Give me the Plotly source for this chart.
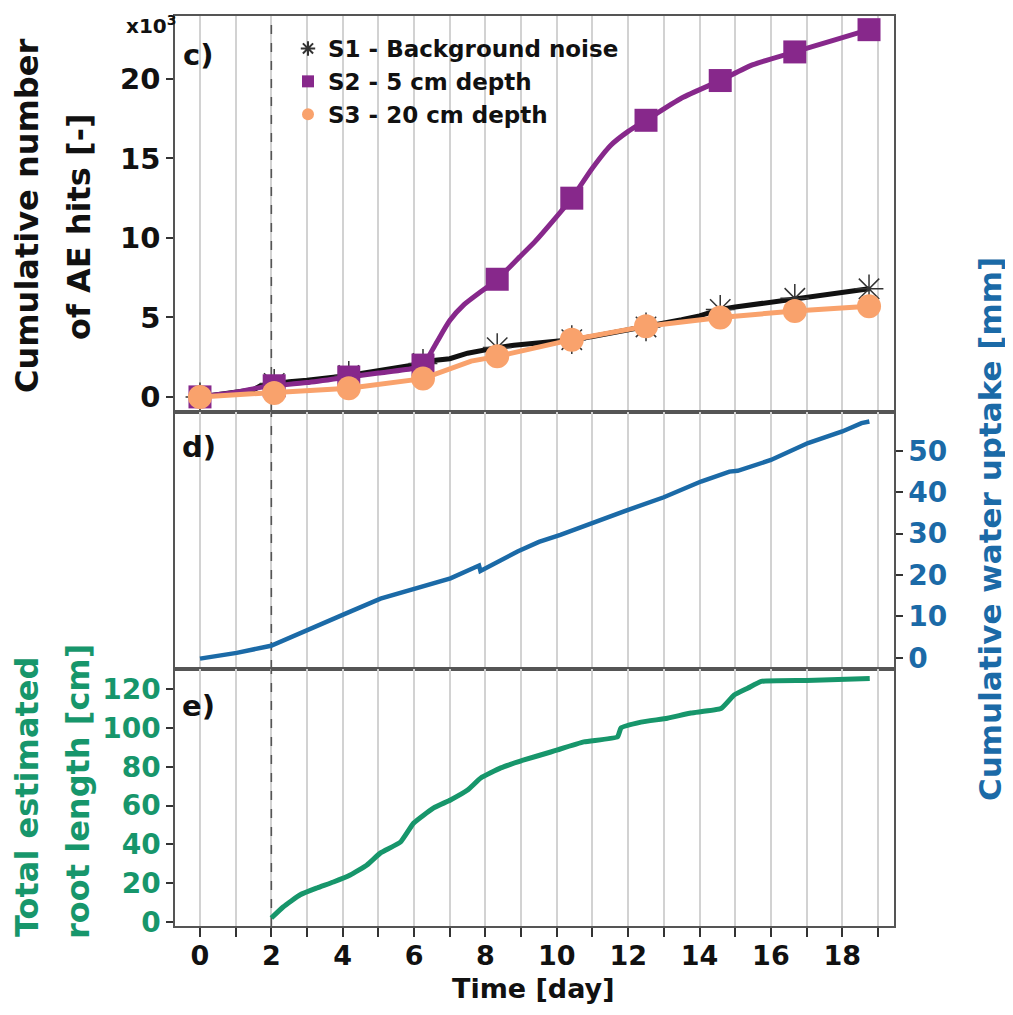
import plotly.graph_objects as go
from plotly.subplots import make_subplots

# ---------------- data ----------------
# Panel c: cumulative AE hits (thousands)
S1_T = [0, 0.5, 1.0, 1.5, 1.7, 2.08, 2.5, 3.0, 3.5, 4.17, 4.6, 5.0, 5.5, 6.0, 6.25, 6.6, 7.0, 7.5, 8.0, 8.33,
        8.8, 9.3, 9.8, 10.42, 11.0, 11.5, 12.0, 12.5, 13.0, 13.5, 14.0, 14.58, 15.0, 15.5, 16.0, 16.67,
        17.2, 17.7, 18.2, 18.75]
S1_K = [0, 0.15, 0.35, 0.45, 0.7, 0.85, 0.95, 1.05, 1.15, 1.35, 1.5, 1.65, 1.8, 1.95, 2.1, 2.3, 2.4, 2.75, 3.0, 3.1,
        3.25, 3.35, 3.5, 3.6, 3.8, 4.0, 4.2, 4.4, 4.6, 4.85, 5.1, 5.5, 5.65, 5.8, 5.95, 6.2,
        6.35, 6.5, 6.65, 6.8]
S2_T = [0, 1.0, 1.7, 2.08, 3.0, 4.17, 5.0, 6.0, 6.25, 6.6, 7.0, 7.4, 8.33, 9.0, 9.4, 10.42, 11.0, 11.5, 12.0,
        12.5, 13.5, 14.58, 15.5, 16.67, 17.7, 18.75]
S2_K = [0, 0.3, 0.6, 0.7, 0.9, 1.25, 1.5, 1.8, 2.0, 3.3, 4.8, 5.8, 7.4, 8.9, 9.8, 12.5, 14.4, 15.8, 16.7,
        17.4, 18.8, 19.9, 20.9, 21.7, 22.4, 23.1]
S3_T = [0, 2.08, 4.17, 6.25, 7.0, 7.6, 8.33, 10.42, 12.5, 14.58, 16.67, 18.75]
S3_K = [0, 0.25, 0.55, 1.15, 1.8, 2.25, 2.55, 3.6, 4.45, 5.0, 5.4, 5.7]

MARK_T = [0, 2.08, 4.17, 6.25, 8.33, 10.42, 12.5, 14.58, 16.67, 18.75]
S1_MARK_K = [0, 0.85, 1.35, 2.1, 3.1, 3.6, 4.4, 5.5, 6.2, 6.8]
S2_MARK_K = [0, 0.7, 1.25, 2.0, 7.4, 12.5, 17.4, 19.9, 21.7, 23.1]
S3_MARK_K = [0, 0.25, 0.55, 1.15, 2.55, 3.6, 4.45, 5.0, 5.4, 5.7]

# Panel d: cumulative water uptake [mm]
WATER_T = [0, 1.03, 1.99, 3.0, 4.03, 5.06, 5.99, 7.02, 7.82, 7.86, 8.9, 9.5, 10.1, 10.96, 11.98, 13.0,
           14.04, 14.84, 15.07, 16.0, 17.04, 18.0, 18.54, 18.76]
WATER_MM = [-0.2, 1.2, 2.9, 6.8, 10.5, 14.3, 16.6, 19.2, 22.3, 21.0, 25.7, 28.0, 29.7, 32.5, 35.7, 38.8,
            42.6, 45.0, 45.2, 47.8, 51.9, 54.7, 56.7, 57.1]

# Panel e: total estimated root length [cm]
ROOT_T = [2.0, 2.33, 2.81, 3.28, 3.74, 4.21, 4.68, 5.06, 5.62, 5.99, 6.55, 7.02, 7.5, 7.87, 8.43, 9.08,
          9.83, 10.02, 10.76, 11.7, 11.8, 12.36, 13.1, 13.76, 14.6, 14.97, 15.36, 15.73, 17.0, 18.77]
ROOT_CM = [2, 7.7, 14, 17.5, 20.6, 24.2, 29.4, 35.6, 41.2, 51, 58.8, 62.9, 68, 74.2, 79.4, 83.5,
           87.6, 88.7, 92.8, 95.4, 100, 103, 105, 107.7, 110, 117, 120.6, 124, 124.5, 125.5]

EVENT_DAY = 2
X_TICKS = list(range(0, 20))
X_TICK_TEXT = [str(v) if v % 2 == 0 else "" for v in X_TICKS]
NAMES = ["S1 - Background noise", "S2 - 5 cm depth", "S3 - 20 cm depth"]

# ---------------- styling ----------------
OFF = 8                      # page body offset of the rendered figure
W, H = 1013 - OFF, 1015 - OFF
PL, PR, PT, PB = 175, 894, 16, 926   # plot-area edges in window pixels
L = PL - OFF
T = PT - OFF
R = W - (PR - OFF)
B = H - (PB - OFF)
FONT = "DejaVu Sans"
PURPLE = "#87288b"
ORANGE = "#f9a26c"
BLACK = "#111111"
BLUE = "#1b6aa7"
GREEN = "#17966b"
AXC = "#555555"
GRID = "#d2d2d2"

XR = [-0.7, 19.45]
YR_C = [-0.95, 23.96]
YR_D = [-2.7, 59.4]
YR_E = [-2.1, 130.4]

fig = make_subplots(rows=3, cols=1, shared_xaxes=True, vertical_spacing=0,
                    row_heights=[396, 257, 257])

# event line (under everything)
for row, yr in [(1, YR_C), (2, YR_D), (3, YR_E)]:
    fig.add_trace(go.Scatter(x=[EVENT_DAY, EVENT_DAY], y=yr, mode="lines",
                             line=dict(color="#555555", width=1.6, dash="dash"),
                             showlegend=False, hoverinfo="skip"), row=row, col=1)

# S1
fig.add_trace(go.Scatter(x=S1_T, y=S1_K, mode="lines", line=dict(color=BLACK, width=5),
                         showlegend=False), row=1, col=1)
fig.add_trace(go.Scatter(x=MARK_T, y=S1_MARK_K, mode="markers", name=NAMES[0],
                         marker=dict(symbol="asterisk-open", size=24, color="#333333",
                                     line=dict(color="#333333", width=1.5))), row=1, col=1)
# S2
fig.add_trace(go.Scatter(x=S2_T, y=S2_K, mode="lines", line=dict(color=PURPLE, width=5, shape="spline", smoothing=0.6),
                         showlegend=False), row=1, col=1)
fig.add_trace(go.Scatter(x=MARK_T, y=S2_MARK_K, mode="markers", name=NAMES[1],
                         marker=dict(symbol="square", size=23, color=PURPLE)), row=1, col=1)
# S3
fig.add_trace(go.Scatter(x=S3_T, y=S3_K, mode="lines", line=dict(color=ORANGE, width=5),
                         showlegend=False), row=1, col=1)
fig.add_trace(go.Scatter(x=MARK_T, y=S3_MARK_K, mode="markers", name=NAMES[2],
                         marker=dict(symbol="circle", size=24, color=ORANGE)), row=1, col=1)

# water uptake
fig.add_trace(go.Scatter(x=WATER_T, y=WATER_MM, mode="lines", line=dict(color=BLUE, width=4.5),
                         showlegend=False), row=2, col=1)
# root length
fig.add_trace(go.Scatter(x=ROOT_T, y=ROOT_CM, mode="lines", line=dict(color=GREEN, width=5, shape="spline", smoothing=0.4),
                         showlegend=False), row=3, col=1)


def px(x):
    return (x - PL) / (PR - PL)


def py(y):
    return (PB - y) / (PB - PT)


hc, hd = 396 / 910, 257 / 910
fig.update_layout(
    width=W, height=H,
    margin=dict(l=L, r=R, t=T, b=B, autoexpand=False),
    paper_bgcolor="white", plot_bgcolor="white",
    font=dict(family=FONT, weight="bold", color="#111111"),
    legend=dict(x=px(288), y=py(27), xanchor="left", yanchor="top",
                bgcolor="rgba(0,0,0,0)", font=dict(family=FONT, size=23, weight="bold", color="#111111"),
                tracegroupgap=0, itemsizing="constant"),
    yaxis=dict(domain=[1 - hc, 1]),
    yaxis2=dict(domain=[hd, 1 - hc]),
    yaxis3=dict(domain=[0, hd]),
)

xcommon = dict(range=XR, showgrid=True, gridcolor=GRID, gridwidth=1.5, tickvals=X_TICKS, automargin=False,
               showline=True, linecolor=AXC, linewidth=1.5, mirror=True, zeroline=False)
fig.update_xaxes(**xcommon, showticklabels=False, ticks="", row=1, col=1)
fig.update_xaxes(**xcommon, showticklabels=False, ticks="", row=2, col=1)
fig.update_xaxes(**xcommon, ticktext=X_TICK_TEXT, ticks="outside", ticklen=9, tickwidth=1.5, tickcolor="#333333",
                 ticklabelstandoff=-4,
                 tickfont=dict(family=FONT, size=27, weight="bold", color="#111111"), row=3, col=1)

ycommon = dict(showgrid=False, zeroline=False, showline=True, linecolor=AXC, linewidth=1.5, mirror=True,
               ticks="outside", ticklen=7, tickwidth=1.5, tickcolor="#333333", automargin=False)
fig.update_yaxes(**ycommon, range=YR_C, tickvals=[0, 5, 10, 15, 20],
                 tickfont=dict(family=FONT, size=29, weight="bold", color="#111111"), row=1, col=1)
fig.update_yaxes(**ycommon, range=YR_D, tickvals=[0, 10, 20, 30, 40, 50], side="right",
                 tickfont=dict(family=FONT, size=28, weight="bold", color=BLUE), row=2, col=1)
fig.update_yaxes(**ycommon, range=YR_E, tickvals=[0, 20, 40, 60, 80, 100, 120],
                 tickfont=dict(family=FONT, size=28, weight="bold", color=GREEN), row=3, col=1)


def ann(text, x, y, size, color="#111111", angle=0, xanchor="center", yanchor="middle"):
    fig.add_annotation(text=text, x=px(x), y=py(y), xref="paper", yref="paper", showarrow=False,
                       textangle=angle, xanchor=xanchor, yanchor=yanchor,
                       font=dict(family=FONT, size=size, weight="bold", color=color))


ann("x10<sup>3</sup>", 178, 10, 20, xanchor="right", yanchor="top")
ann("c)", 198, 55, 29)
ann("d)", 199, 447, 29)
ann("e)", 198, 706, 29)
ann("Cumulative number", 27, 216, 32, angle=-90)
ann("of AE hits [-]", 79, 227, 32, angle=-90)
ann("Total estimated", 27, 797, 32, color=GREEN, angle=-90)
ann("root length [cm]", 78, 792, 32, color=GREEN, angle=-90)
ann("Cumulative water uptake [mm]", 990, 529, 31, color=BLUE, angle=-90)
ann("Time [day]", 533, 988, 27)

fig.write_html("out.html")
